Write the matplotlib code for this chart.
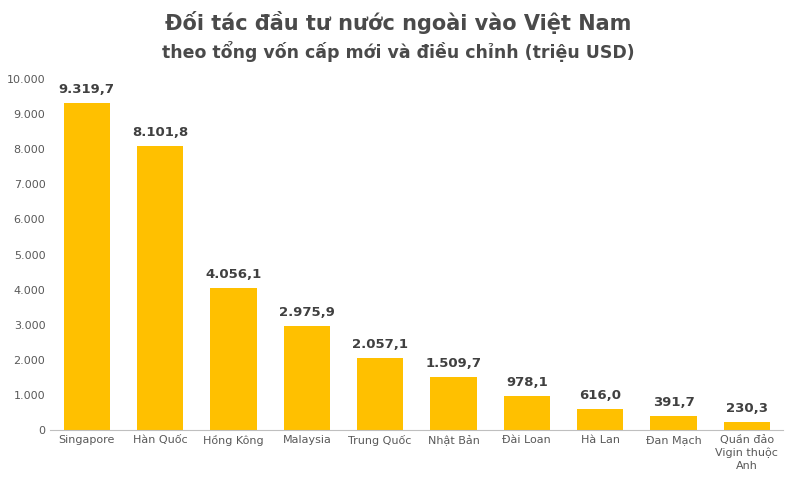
import matplotlib
matplotlib.use("Agg")
import matplotlib.pyplot as plt

categories = ["Singapore", "Hàn Quốc", "Hồng Kông", "Malaysia", "Trung Quốc",
              "Nhật Bản", "Đài Loan", "Hà Lan", "Đan Mạch", "Quần đảo\nVigin thuộc\nAnh"]
values = [9319.7, 8101.8, 4056.1, 2975.9, 2057.1, 1509.7, 978.1, 616.0, 391.7, 230.3]
yticks = list(range(0, 10001, 1000))

def vn(v, dec):
    s = f"{v:,.{dec}f}"
    return s.replace(",", "X").replace(".", ",").replace("X", ".")

plt.rcParams['font.family'] = ['DejaVu Sans']
fig = plt.figure(figsize=(7.97, 4.90), dpi=100)
ax = fig.add_axes([0.063, 0.122, 0.92, 0.717])
x = range(len(categories))
ax.bar(x, values, width=0.63, color="#FFC000")
for i, v in zip(x, values):
    ax.text(i, v + 200, vn(v, 1), ha="center", va="bottom", fontsize=9.5,
            fontweight="bold", color="#404040")
ax.set_xlim(-0.5, len(categories) - 0.5)
ax.set_ylim(0, 10000)
ax.set_yticks(yticks)
ax.set_yticklabels([vn(t, 0) for t in yticks], fontsize=8, color="#595959")
ax.set_xticks(list(x))
ax.set_xticklabels(categories, fontsize=8, color="#595959", linespacing=1.3)
ax.tick_params(length=0)
for s in ["top", "right", "left"]:
    ax.spines[s].set_visible(False)
ax.spines["bottom"].set_color("#BFBFBF")
fig.text(0.5, 0.955, "Đối tác đầu tư nước ngoài vào Việt Nam", ha="center", va="center",
         fontsize=15, fontweight="bold", color="#4a4a4a")
fig.text(0.5, 0.895, "theo tổng vốn cấp mới và điều chỉnh (triệu USD)", ha="center",
         va="center", fontsize=12.5, fontweight="bold", color="#4a4a4a")
fig.savefig("out.png", dpi=100)
